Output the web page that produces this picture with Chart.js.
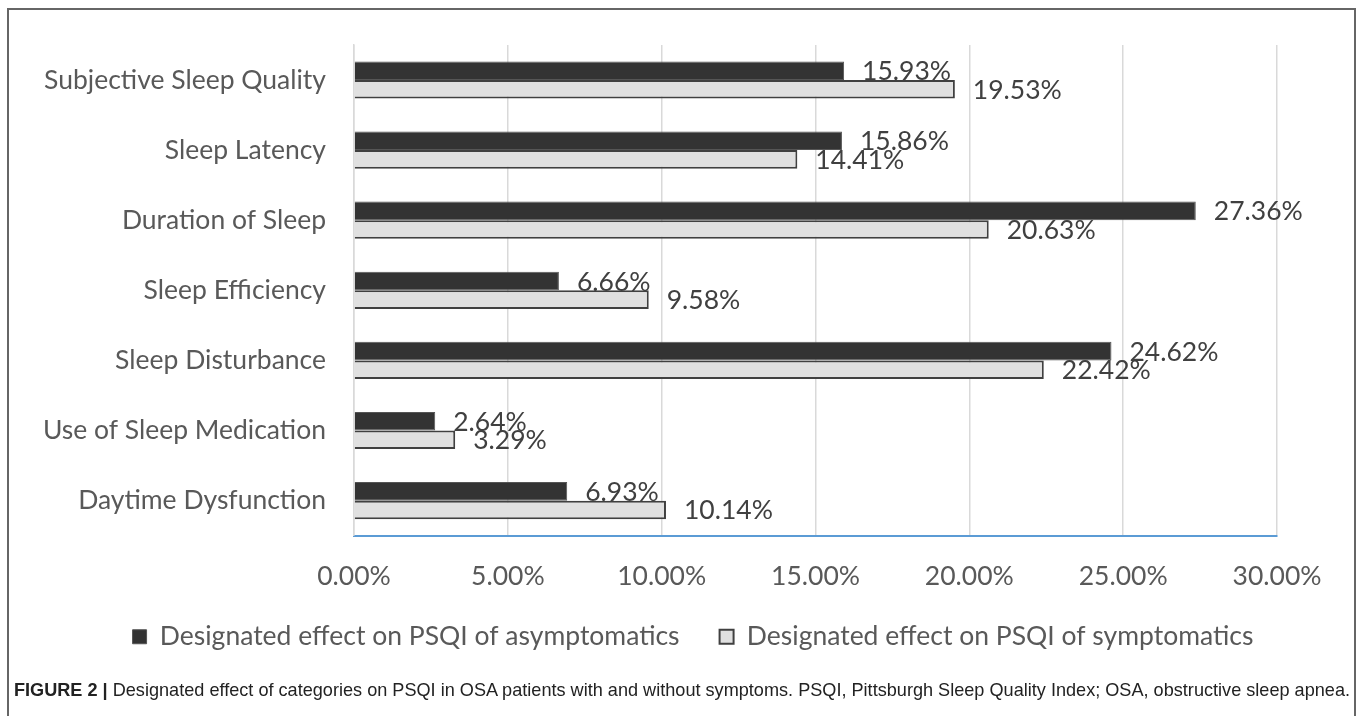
<!DOCTYPE html>
<html>
<head>
<meta charset="utf-8">
<script src="https://cdn.jsdelivr.net/npm/chart.js@4.4.1/dist/chart.umd.min.js"></script>
<style>
  html, body { margin: 0; padding: 0; background: #fff; width: 1358px; height: 716px; overflow: hidden; }
  #frame { position: absolute; left: 7px; top: 8px; width: 1349px; height: 720px; border: 2px solid #666; border-bottom: none; box-sizing: border-box; }
  #wrap { position: absolute; left: 9px; top: 1px; width: 1344px; height: 693px; }
  #caption { position: absolute; left: 14px; top: 679px; font-family: "Liberation Sans Narrow", "Arial Narrow", "Liberation Sans", Arial, sans-serif; font-size: 19px; color: #222; white-space: nowrap; transform-origin: 0 0; }
  #caption b { font-weight: bold; }
</style>
</head>
<body>
<div id="frame"></div>
<div id="wrap"><canvas id="c"></canvas></div>
<div id="caption"><b>FIGURE 2 |</b> Designated effect of categories on PSQI in OSA patients with and without symptoms. PSQI, Pittsburgh Sleep Quality Index; OSA, obstructive sleep apnea.</div>
<script>
const categories = [
  "Subjective Sleep Quality",
  "Sleep Latency",
  "Duration of Sleep",
  "Sleep Efficiency",
  "Sleep Disturbance",
  "Use of Sleep Medication",
  "Daytime Dysfunction"
];
const asymptomatic = [15.93, 15.86, 27.36, 6.66, 24.62, 2.64, 6.93];
const symptomatic  = [19.53, 14.41, 20.63, 9.58, 22.42, 3.29, 10.14];
const seriesNames = [
  "Designated effect on PSQI of asymptomatics",
  "Designated effect on PSQI of symptomatics"
];
const xTicks = [0, 5, 10, 15, 20, 25, 30];

const FONT = "Lato, Carlito, Calibri, 'Open Sans', sans-serif";
const FS = 26.5;
const TEXT = "#595959";

const valueLabels = {
  id: 'valueLabels',
  afterLayout(chart) {
    // centre the legend on the whole figure and pull it closer to the axis
    const lg = chart.legend;
    if (lg) { lg.left += 50; lg.right += 50; lg.top -= 34; lg.bottom -= 34; }
  },
  afterDatasetsDraw(chart) {
    const ctx = chart.ctx;
    ctx.save();
    ctx.font = FS + "px " + FONT;
    ctx.fillStyle = "#404040";
    ctx.textAlign = "left";
    ctx.textBaseline = "middle";
    chart.data.datasets.forEach((ds, di) => {
      const meta = chart.getDatasetMeta(di);
      meta.data.forEach((el, i) => {
        ctx.fillText(ds.data[i].toFixed(2) + "%", el.x + 18, el.y + 1);
      });
    });
    ctx.restore();
  }
};

const c = document.getElementById('c');
c.width = 1344; c.height = 693;
new Chart(c, {
  type: 'bar',
  data: {
    labels: categories,
    datasets: [
      { label: seriesNames[0], data: asymptomatic, backgroundColor: "#333333", borderColor: "#555555", borderWidth: 1 },
      { label: seriesNames[1], data: symptomatic, backgroundColor: "#e0e0e0", borderColor: "#404040", borderWidth: 2 }
    ]
  },
  options: {
    indexAxis: 'y',
    responsive: false,
    animation: false,
    devicePixelRatio: 1,
    layout: { padding: { top: 0, right: 76, left: 0, bottom: 0 } },
    datasets: { bar: { categoryPercentage: 0.53, barPercentage: 1.0 } },
    scales: {
      x: {
        min: 0, max: 30,
        afterBuildTicks(scale) { scale.ticks = xTicks.map(v => ({ value: v })); },
        ticks: {
          callback: v => Number(v).toFixed(2) + "%",
          color: TEXT, font: { family: FONT, size: FS }, padding: 25
        },
        grid: { color: "#d9d9d9", lineWidth: 1.5, drawTicks: false },
        border: { color: "#5b9bd5", width: 2 }
      },
      y: {
        afterFit(scale) { scale.width = 345; },
        ticks: { color: TEXT, font: { family: FONT, size: FS }, padding: 28 },
        grid: { display: false, drawTicks: false },
        border: { color: "#d9d9d9", width: 1.5 }
      }
    },
    plugins: {
      legend: {
        position: 'bottom',
        labels: {
          color: TEXT,
          font: { family: FONT, size: FS },
          boxWidth: 14, boxHeight: 14,
          padding: 40
        }
      },
      tooltip: { enabled: false }
    }
  },
  plugins: [valueLabels]
});

const cap = document.getElementById('caption');
const w = cap.getBoundingClientRect().width;
cap.style.transform = "scaleX(" + (1336 / w) + ")";
</script>
</body>
</html>
